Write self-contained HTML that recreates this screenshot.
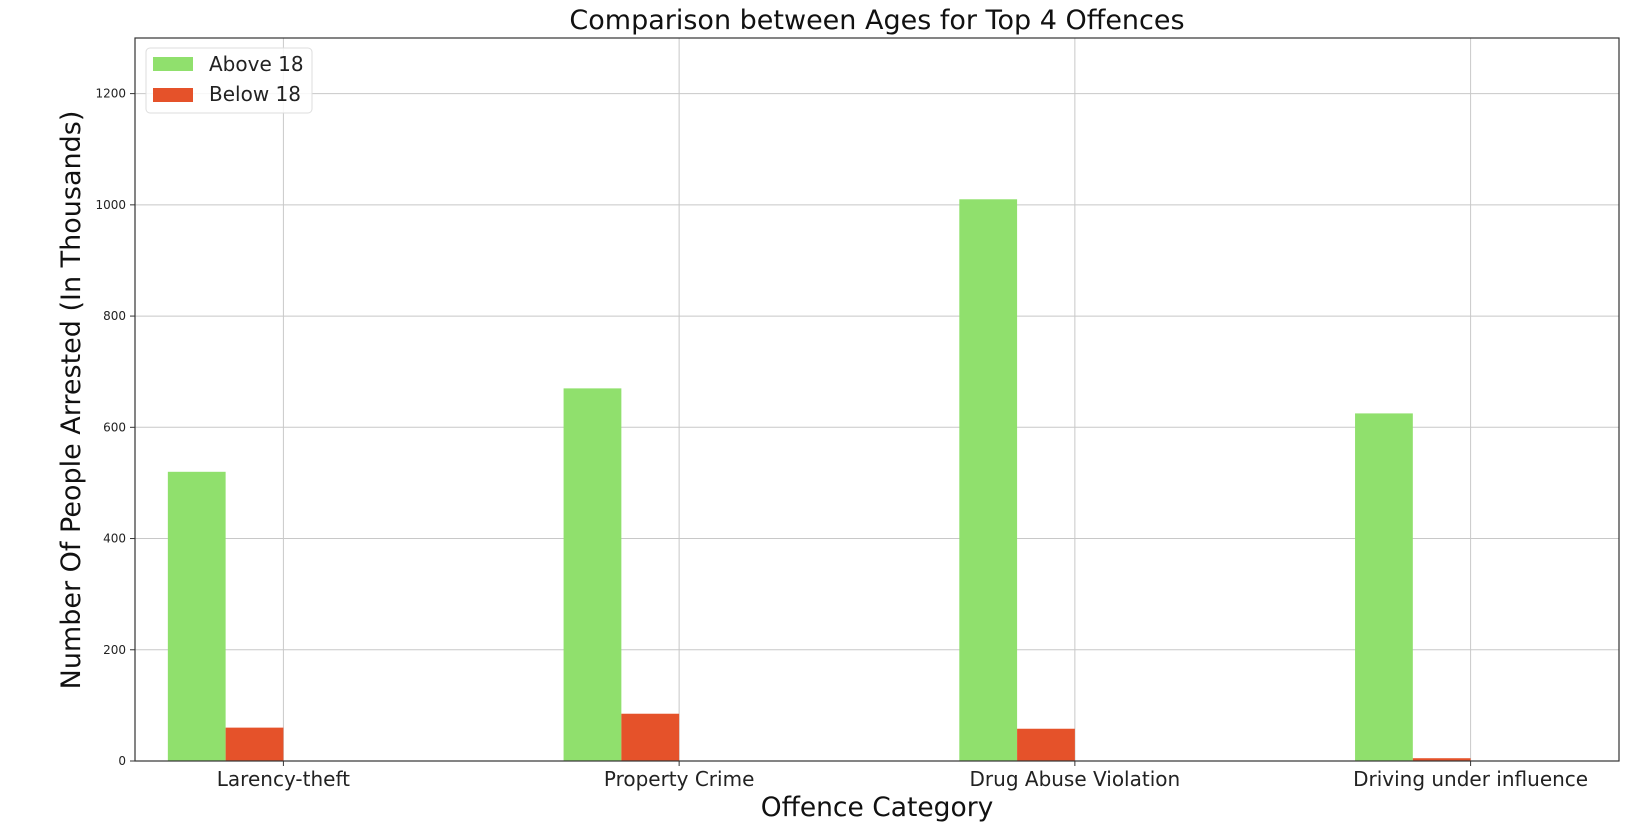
<!DOCTYPE html>
<html><head><meta charset="utf-8"><style>
body{margin:0;background:#fff}
svg{display:block;font-family:"DejaVu Sans","Liberation Sans",sans-serif}
</style></head><body>
<svg id="chart" width="1652" height="828">
<text x="877" y="29" font-size="27" text-anchor="middle" fill="#111">Comparison between Ages for Top 4 Offences</text>
<g id="grid"></g><g id="bars"></g><g id="axes"></g>
<text x="877" y="816" font-size="26.5" text-anchor="middle" fill="#111">Offence Category</text>
<text transform="translate(80,400) rotate(-90)" font-size="27" text-anchor="middle" fill="#111">Number Of People Arrested (In Thousands)</text>
<g>
<rect x="146" y="48" width="166" height="65" rx="4" fill="#fff" fill-opacity="0.85" stroke="#ddd"/>
<g><rect x="153" y="57" width="40" height="14" fill="#90e06d"/><text x="209" y="71" font-size="20" fill="#222">Above 18</text></g>
<g><rect x="153" y="88" width="40" height="14" fill="#e5522a"/><text x="209" y="101" font-size="20" fill="#222">Below 18</text></g>
</g>
</svg>
<script>
const categories=["Larency-theft","Property Crime","Drug Abuse Violation","Driving under influence"];
const above18=[520,670,1010,625];
const below18=[60,85,58,5];
const yTicks=[0,200,400,600,800,1000,1200];
const NS="http://www.w3.org/2000/svg";
const L=135,R=1619,T=38,B=761,YMAX=1300;
const step=(R-L)/(categories.length-1+0.75);
const xc=i=>L+step*(0.375+i);
const y=v=>B-(v/YMAX)*(B-T);
const bw=step*0.146;
function mk(p,tag,a){const e=document.createElementNS(NS,tag);for(const k in a)e.setAttribute(k,a[k]);p.appendChild(e);return e;}
const grid=document.getElementById('grid'),bars=document.getElementById('bars'),axes=document.getElementById('axes');
yTicks.forEach(t=>{
 const g=mk(grid,'line',{x1:L,x2:R,y1:y(t),y2:y(t),stroke:'#c8c8c8','stroke-width':1});
 
 
 mk(axes,'line',{x1:L-5,x2:L,y1:y(t),y2:y(t),stroke:'#333'});
 const tx=mk(axes,'text',{x:L-9,y:y(t)+4,'font-size':12,'text-anchor':'end',fill:'#222'});
 tx.textContent=t;
 
 
});
categories.forEach((c,i)=>{
 const x=xc(i);
 const g=mk(grid,'line',{x1:x,x2:x,y1:T,y2:B,stroke:'#c8c8c8','stroke-width':1});
 
 
 const a=mk(bars,'rect',{x:x-2*bw,y:y(above18[i]),width:bw,height:B-y(above18[i]),fill:'#90e06d'});
 
 
 const b=mk(bars,'rect',{x:x-bw,y:y(below18[i]),width:bw,height:B-y(below18[i]),fill:'#e5522a'});
 
 
 mk(axes,'line',{x1:x,x2:x,y1:B,y2:B+5,stroke:'#333'});
 const tx=mk(axes,'text',{x:x,y:B+25,'font-size':20,'text-anchor':'middle',fill:'#222'});
 tx.textContent=c;
 
 
});
const f=mk(axes,'rect',{x:L,y:T,width:R-L,height:B-T,fill:'none',stroke:'#333','stroke-width':1.2});


</script>
</body></html>
